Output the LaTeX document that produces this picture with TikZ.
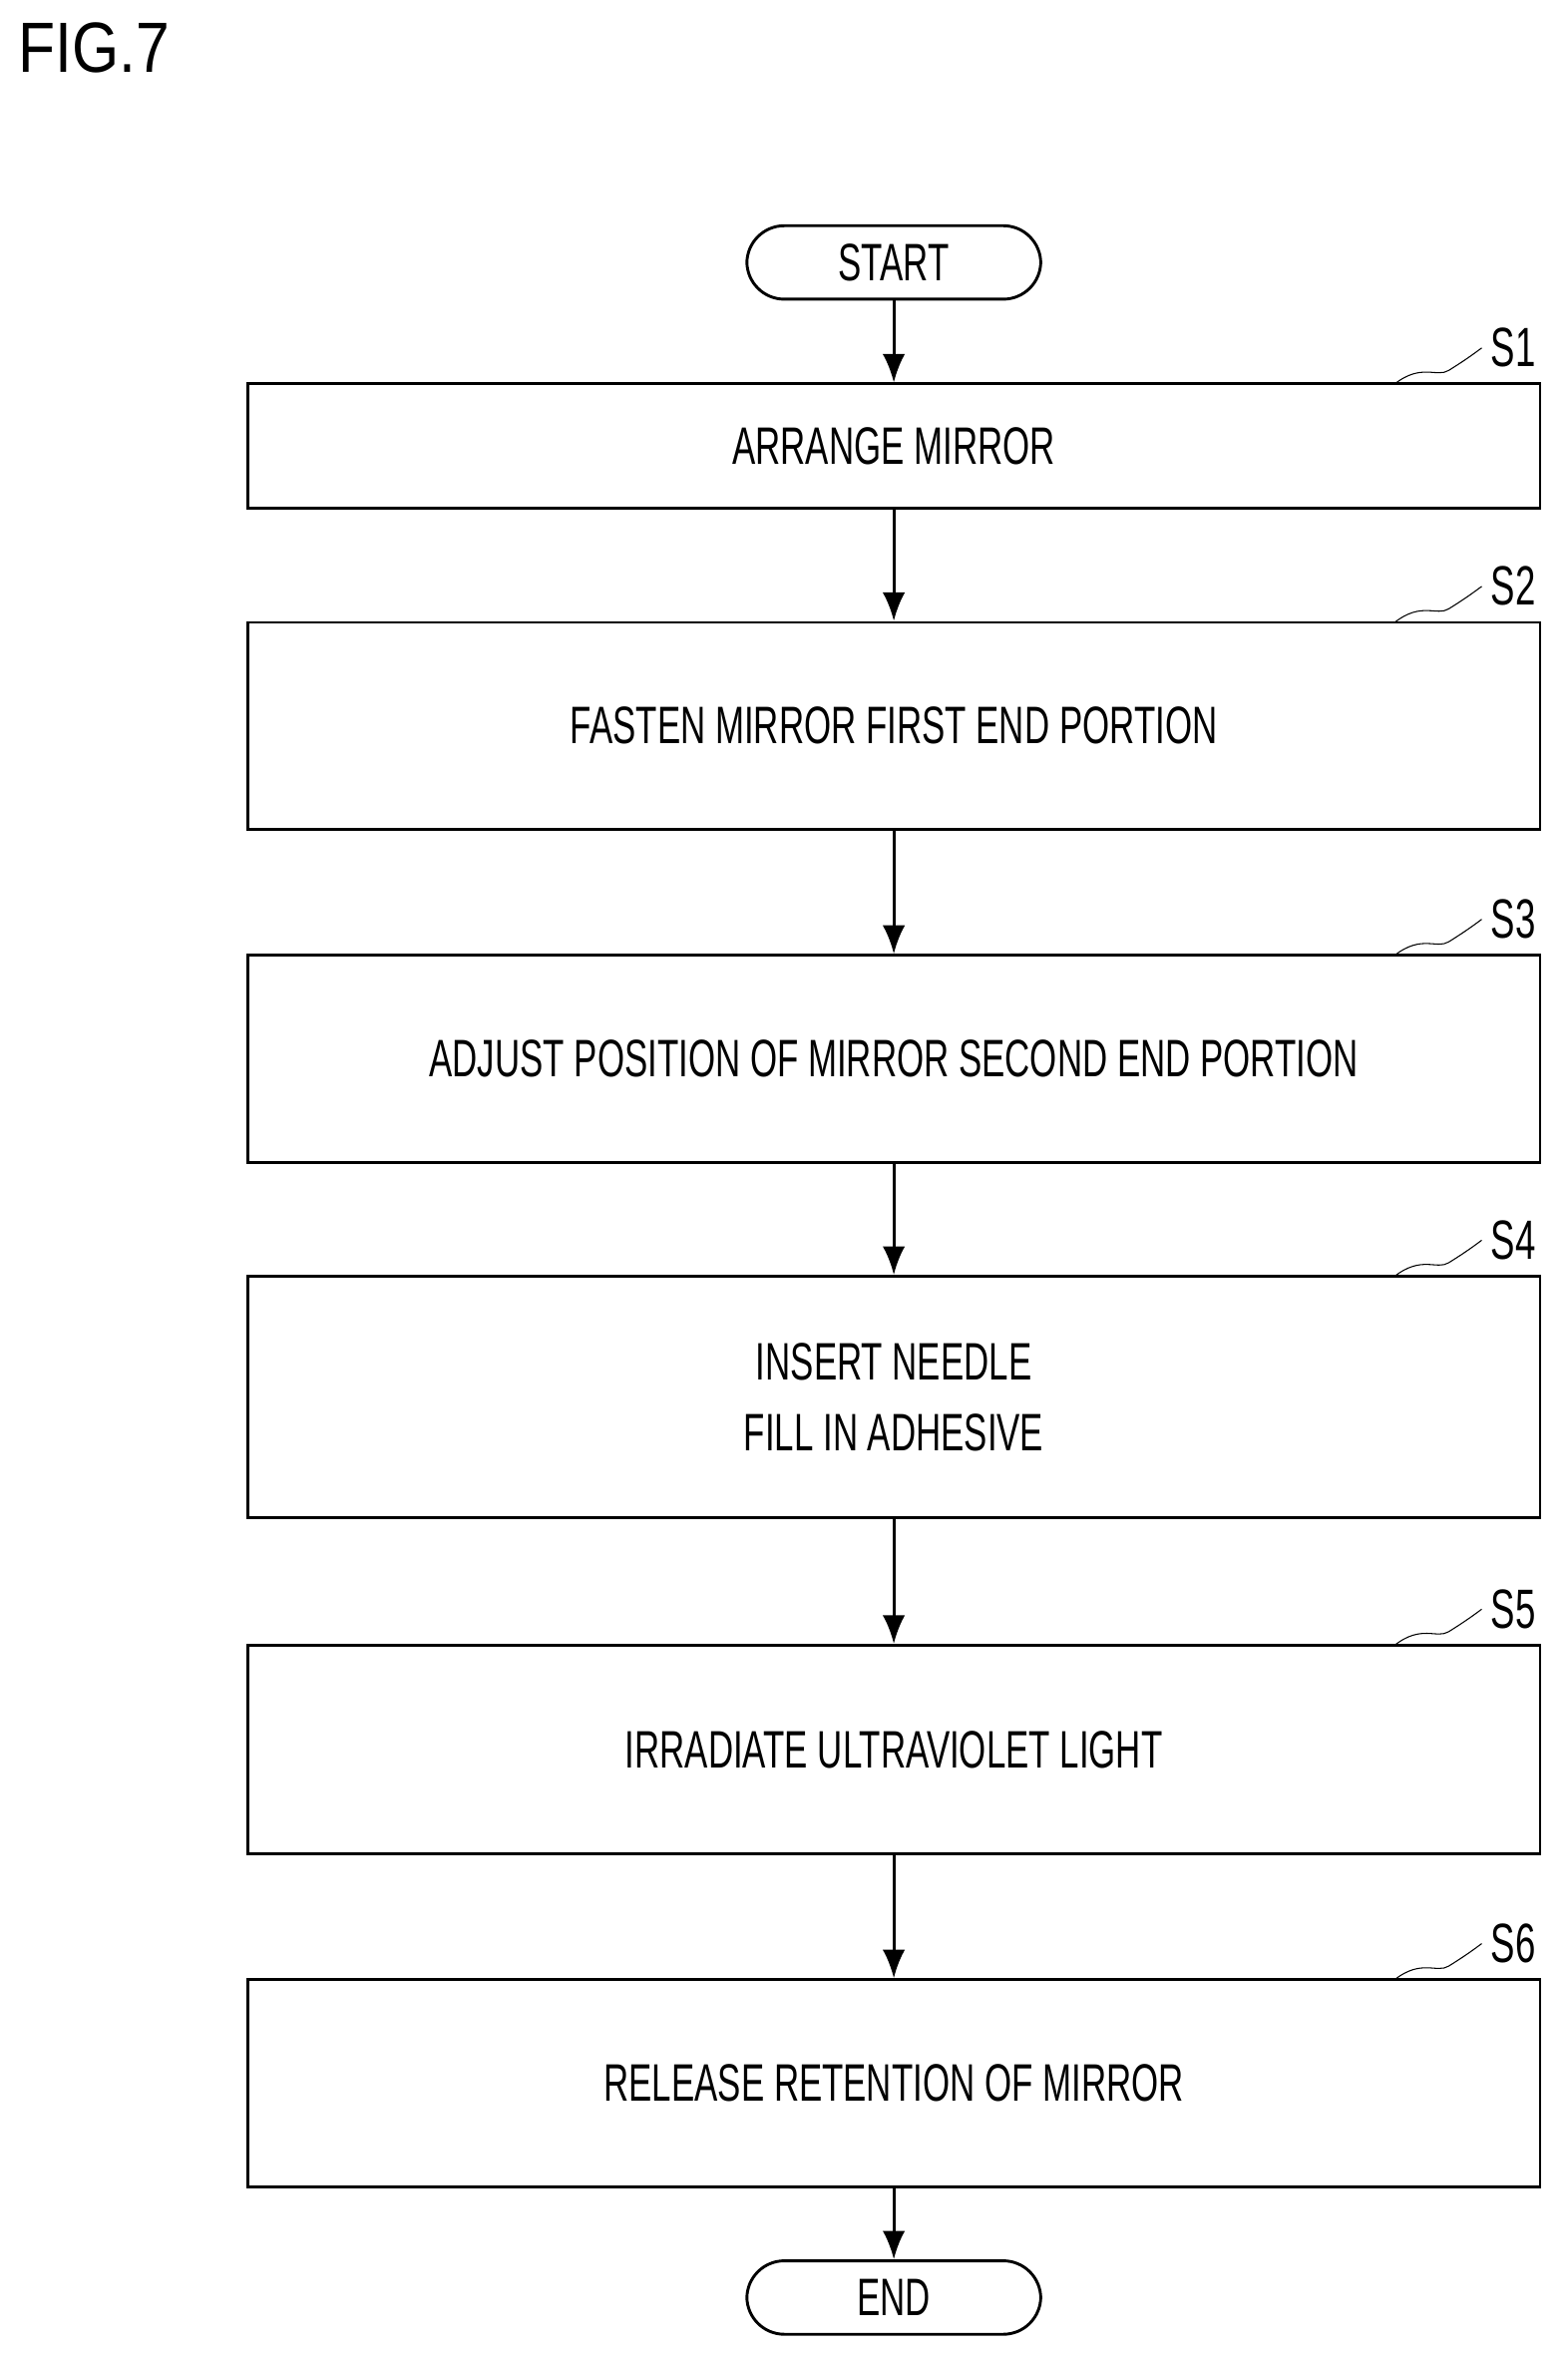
\documentclass[tikz,border=0pt]{standalone}
\usepackage{fontspec}
\setmainfont{Liberation Sans}[FakeStretch=0.66]
\newfontfamily\figfont{Liberation Sans}[FakeStretch=0.85]
\usetikzlibrary{calc}

\tikzset{
    box/.style={draw, line width=1.1pt, minimum width=17.24cm, inner sep=0pt, font=\fontsize{20}{27}\selectfont, align=center},
    term/.style={draw, line width=1.1pt, rounded corners=0.5cm, minimum width=3.92cm, minimum height=0.98cm, inner sep=0pt, font=\fontsize{20}{24}\selectfont},
    flow/.style={line width=1.1pt, -{Latex[length=0.38cm, width=0.3cm]}},
    tag/.style={font=\fontsize{21}{24}\selectfont, anchor=west},
}
\usetikzlibrary{arrows.meta}

\begin{document}
\begin{tikzpicture}[x=0.02cm, y=-0.02cm]
    \useasboundingbox (0, 0) rectangle (1045, 1571);
    \node[anchor=west, font=\figfont\fontsize{27}{30}\selectfont] (fig) at (6, 32) {FIG.7};

    \node[term] (start) at (596, 175) {START};
    \node[box, minimum height=1.66cm] (s1) at (596, 297.5) {ARRANGE MIRROR};
    \node[box, minimum height=2.76cm] (s2) at (596, 484) {FASTEN MIRROR FIRST END PORTION};
    \node[box, minimum height=2.76cm] (s3) at (596, 706) {ADJUST POSITION OF MIRROR SECOND END PORTION};
    \node[box, minimum height=3.22cm] (s4) at (596, 931.5) {INSERT NEEDLE\\FILL IN ADHESIVE};
    \node[box, minimum height=2.78cm] (s5) at (596, 1166.5) {IRRADIATE ULTRAVIOLET LIGHT};
    \node[box, minimum height=2.76cm] (s6) at (596, 1389) {RELEASE RETENTION OF MIRROR};
    \node[term] (end) at (596, 1532) {END};

    \draw[flow] (start) -- (s1);
    \draw[flow] (s1) -- (s2);
    \draw[flow] (s2) -- (s3);
    \draw[flow] (s3) -- (s4);
    \draw[flow] (s4) -- (s5);
    \draw[flow] (s5) -- (s6);
    \draw[flow] (s6) -- (end);

    % step labels with wavy leaders
    \foreach \s/\y in {1/256, 2/415, 3/637, 4/851, 5/1097, 6/1320} {
        \node[tag] (t\s) at (988, \y-24) {S\s};
        \coordinate (c\s) at (930, \y);
        \draw (c\s) .. controls (948, \y-14) and (958, \y-4) .. (966, \y-9)
                    .. controls (974, \y-14) and (980, \y-18) .. (t\s.west);
    }
\end{tikzpicture}
\end{document}
